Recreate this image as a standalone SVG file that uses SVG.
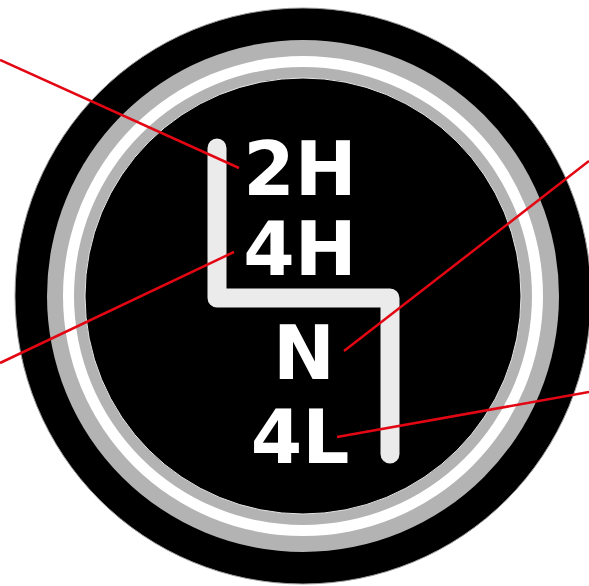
<svg xmlns="http://www.w3.org/2000/svg" width="589" height="586" viewBox="0 0 589 586">
<style>
.lbl{font-family:"DejaVu Sans","Liberation Sans",sans-serif;font-weight:bold;font-size:74px;fill:#ffffff;text-anchor:middle}
.lead{stroke:#e30613;stroke-width:2.5;fill:none}
</style>
<rect width="589" height="586" fill="#ffffff"/>
<g id="knob">
<circle cx="303" cy="296" r="288" fill="#000000" stroke="#9a9a9a" stroke-width="1"/>
<circle cx="303" cy="296" r="256" fill="#b3b3b3"/>
<circle cx="303" cy="296" r="240" fill="#ffffff"/>
<circle cx="303" cy="296" r="229" fill="#b3b3b3"/>
<circle cx="303" cy="296" r="218" fill="#000000" stroke="#e6e6e6" stroke-width="1"/>
</g>
<g id="gate">
<path d="M217,148 V298 H390 V454" fill="none" stroke="#ebebeb" stroke-width="19" stroke-linecap="round" stroke-linejoin="round"/>
</g>
<g id="label-2H"><text class="lbl" x="300" y="195">2H</text></g>
<g id="label-4H"><text class="lbl" x="300" y="275">4H</text></g>
<g id="label-N"><text class="lbl" x="304" y="379">N</text></g>
<g id="label-4L"><text class="lbl" x="300" y="463">4L</text></g>
<g id="connectors">
<line class="lead" x1="0" y1="60" x2="239" y2="168"/>
<line class="lead" x1="0" y1="363" x2="234" y2="252"/>
<line class="lead" x1="344" y1="351" x2="589" y2="161"/>
<line class="lead" x1="337" y1="437" x2="589" y2="392"/>
</g>
</svg>
